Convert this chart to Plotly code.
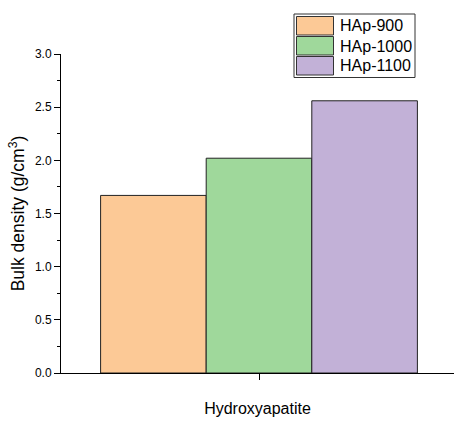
import plotly.graph_objects as go

categories = ["Hydroxyapatite"]
series_names = ["HAp-900", "HAp-1000", "HAp-1100"]
bulk_density = [1.67, 2.02, 2.56]
colors = ["#FCC996", "#9FD89B", "#C2B1D7"]

W, H = 454, 421
ml, mr, mt, mb = 61, 0, 54, 48
pw, ph = W - ml - mr, H - mt - mb


def px_x(x):
    return (x - ml) / pw


def px_y(y):
    return (H - mb - y) / ph


fig = go.Figure()
for name, val, col in zip(series_names, bulk_density, colors):
    fig.add_trace(go.Bar(
        x=categories, y=[val], name=name, showlegend=False,
        marker=dict(color=col, line=dict(color="#222222", width=1)),
    ))

font = "Liberation Sans, Arial, sans-serif"

# legend drawn as a box with swatches + text
shapes = [dict(type="rect", xref="paper", yref="paper",
               x0=px_x(294), x1=px_x(415), y0=px_y(77.5), y1=px_y(14),
               line=dict(color="#333333", width=1), fillcolor="white", layer="above")]
annotations = []
row_top = [16.5, 36.5, 56.5]
for name, col, top in zip(series_names, colors, row_top):
    shapes.append(dict(type="rect", xref="paper", yref="paper",
                       x0=px_x(296.5), x1=px_x(333.5), y0=px_y(top + 18.5), y1=px_y(top),
                       line=dict(color="#333333", width=1), fillcolor=col, layer="above"))
    annotations.append(dict(xref="paper", yref="paper", x=px_x(338), y=px_y(top + 9.5),
                            xanchor="left", yanchor="middle", showarrow=False,
                            text=name, font=dict(size=16, family=font, color="black")))

fig.update_layout(
    width=W, height=H,
    margin=dict(l=ml, r=mr, t=mt, b=mb, pad=0),
    paper_bgcolor="white", plot_bgcolor="white",
    barmode="group", bargap=0.2, bargroupgap=0,
    font=dict(family=font, color="#000000", size=12),
    showlegend=False,
    shapes=shapes, annotations=annotations,
    xaxis=dict(
        type="category", range=[-0.5, 0.5 - 3 / 396],
        showline=True, linecolor="black", linewidth=1,
        ticks="outside", ticklen=6, tickcolor="black",
        showticklabels=False, showgrid=False, zeroline=False,
        title=dict(text="Hydroxyapatite", font=dict(size=16), standoff=23),
    ),
    yaxis=dict(
        range=[0, 3], dtick=0.5, tickformat=".1f",
        showline=True, linecolor="black", linewidth=1,
        ticks="outside", ticklen=6, tickcolor="black",
        minor=dict(dtick=0.25, ticks="outside", ticklen=3, tickcolor="black"),
        showgrid=False, zeroline=False,
        tickfont=dict(size=12),
        title=dict(text="Bulk density (g/cm<sup>3</sup>)", font=dict(size=17.5), standoff=5),
    ),
)

fig.write_html("out.html", config={"displayModeBar": False},
               post_script="document.body.style.margin='0';")
